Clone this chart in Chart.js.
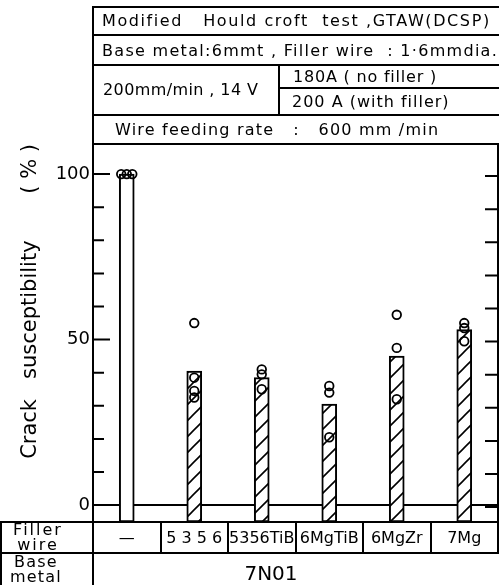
<!DOCTYPE html>
<html><head><meta charset="utf-8">
<script src="https://cdn.jsdelivr.net/npm/chart.js@4.4.1/dist/chart.umd.min.js"></script>
<style>
html,body{margin:0;padding:0;background:#fff;overflow:hidden;}
#wrap{position:relative;width:499px;height:585px;overflow:hidden;font-family:"DejaVu Sans",sans-serif;color:#000;background:#fff;}
canvas{position:absolute;left:0;top:0;}
.ln{position:absolute;background:#000;}
.tx{position:absolute;white-space:pre;font-size:16px;}
</style></head><body>
<div id="wrap">
<canvas id="c" width="499" height="585"></canvas>
<div class="ln" style="left:92px;top:6px;width:420px;height:2px"></div>
<div class="ln" style="left:92px;top:34px;width:420px;height:2px"></div>
<div class="ln" style="left:92px;top:64px;width:420px;height:2px"></div>
<div class="ln" style="left:279px;top:87px;width:240px;height:2px"></div>
<div class="ln" style="left:92px;top:114px;width:420px;height:2px"></div>
<div class="ln" style="left:92px;top:143px;width:420px;height:2px"></div>
<div class="ln" style="left:92px;top:6px;width:2px;height:139px"></div>
<div class="ln" style="left:278px;top:64px;width:2px;height:51px"></div>
<div class="tx" style="left:102px;top:7px;line-height:28px;letter-spacing:1.6px">Modified   Hould croft  test ,GTAW(DCSP)</div>
<div class="tx" style="left:102px;top:36px;line-height:29px;letter-spacing:1.3px">Base metal:6mmt , Filler wire  : 1·6mmdia.</div>
<div class="tx" style="left:103px;top:66px;line-height:48px;letter-spacing:0.4px">200mm/min , 14 V</div>
<div class="tx" style="left:293px;top:66px;line-height:22px;letter-spacing:0.8px">180A ( no filler )</div>
<div class="tx" style="left:292px;top:89px;line-height:26px;letter-spacing:1px">200 A (with filler)</div>
<div class="tx" style="left:115px;top:116px;line-height:28px;letter-spacing:1.2px">Wire feeding rate   :   600 mm /min</div>
<div class="tx" style="left:2px;top:522px;width:72px;text-align:center;font-size:16px;line-height:15px;letter-spacing:2px">Filler
wire</div>
<div class="tx" style="left:0px;top:554px;width:72px;text-align:center;font-size:16px;line-height:15px;letter-spacing:1.2px">Base
metal</div>
<div class="tx" style="left:221px;top:561px;width:100px;text-align:center;font-size:20px;line-height:24px">7N01</div>
</div>
<script>
const categories = ['—', '5 3 5 6', '5356TiB', '6MgTiB', '6MgZr', '7Mg'];
const barValues = [100, 40.5, 38.5, 30.5, 45, 53];
const pointValues = [
  [100, 100, 100],
  [55, 38.5, 34.5, 32.5],
  [41, 39.5, 35],
  [36, 34, 20.5],
  [57.5, 47.5, 32],
  [55, 53.5, 49.5]
];
const yTickLabels = [0, 50, 100];
const yMin = -5.1, yMax = 109.1;

// hatch pattern
function hatch() {
  const s = 16, c = document.createElement('canvas');
  c.width = s; c.height = s;
  const g = c.getContext('2d');
  g.fillStyle = '#fff'; g.fillRect(0, 0, s, s);
  g.strokeStyle = '#000'; g.lineWidth = 1.6;
  g.beginPath();
  g.moveTo(-2, s + 2); g.lineTo(s + 2, -2);
  g.moveTo(-2, 2); g.lineTo(2, -2);
  g.moveTo(s - 2, s + 2); g.lineTo(s + 2, s - 2);
  g.stroke();
  return g.createPattern(c, 'repeat');
}
const pat = hatch();

// scatter points: spread coincident values horizontally
const points = [];
pointValues.forEach((vals, i) => {
  vals.forEach((v, k) => {
    const same = vals.filter(w => Math.abs(w - v) < 1);
    const idx = same.length > 1 ? vals.slice(0, k + 1).filter(w => Math.abs(w - v) < 1).length - 1 : 0;
    const off = same.length > 1 ? (idx - (same.length - 1) / 2) * 0.082 : 0;
    points.push({ x: i + off, y: v });
  });
});

const frame = {
  id: 'frame',
  afterDraw(chart) {
    const { ctx, chartArea: a, scales } = chart;
    const y = scales.y;
    ctx.save();
    ctx.strokeStyle = '#000';
    ctx.lineWidth = 2;
    ctx.beginPath();
    ctx.moveTo(0, a.bottom); ctx.lineTo(499, a.bottom);
    ctx.moveTo(0, a.bottom + 31); ctx.lineTo(499, a.bottom + 31);
    ctx.moveTo(1, a.bottom); ctx.lineTo(1, 585);
    ctx.moveTo(a.left, a.bottom); ctx.lineTo(a.left, 585);
    ctx.moveTo(a.right, a.top); ctx.lineTo(a.right, a.bottom);
    y.ticks.forEach(t => {
      const py = y.getPixelForValue(t.value);
      const len = yTickLabels.includes(t.value) ? 17 : 11;
      ctx.moveTo(a.left, py); ctx.lineTo(a.left + len, py);
      ctx.moveTo(a.right, py + 2); ctx.lineTo(a.right - 13, py + 2);
    });
    ctx.stroke();
    ctx.restore();
  }
};

new Chart(document.getElementById('c'), {
  data: {
    labels: categories,
    datasets: [
      {
        type: 'bar',
        data: barValues,
        base: yMin,
        grouped: false,
        backgroundColor: barValues.map((v, i) => i === 0 ? '#fff' : pat),
        borderColor: '#000',
        borderWidth: 2,
        borderSkipped: false,
        barThickness: 15,
        order: 2
      },
      {
        type: 'scatter',
        data: points,
        xAxisID: 'x2',
        pointRadius: 4.3,
        pointBorderWidth: 1.8,
        pointBorderColor: '#000',
        pointBackgroundColor: 'rgba(0,0,0,0)',
        order: 1
      }
    ]
  },
  options: {
    responsive: false,
    animation: false,
    events: [],
    layout: { autoPadding: false, padding: { top: 144, right: 1, left: 0, bottom: 0 } },
    plugins: { legend: { display: false }, tooltip: { enabled: false } },
    scales: {
      x: {
        type: 'category',
        offset: true,
        afterFit(s) { s.height = 63; },
        grid: { offset: true, drawOnChartArea: false, tickLength: 31, color: '#000', lineWidth: 2 },
        border: { display: true, color: '#000', width: 2 },
        ticks: { color: '#000', padding: -24, maxRotation: 0, autoSkip: false,
                 font: { family: 'DejaVu Sans', size: 16 } }
      },
      x2: {
        type: 'linear', display: false, min: -0.5, max: categories.length - 0.5
      },
      y: {
        min: yMin, max: yMax,
        afterFit(s) { s.width = 93; },
        border: { display: true, color: '#000', width: 2 },
        grid: {
          drawTicks: false,
          lineWidth: 2,
          color: c => (c.tick && c.tick.value === 0) ? '#000' : 'rgba(0,0,0,0)'
        },
        ticks: {
          stepSize: 10, includeBounds: false, padding: 3, color: '#000',
          font: { family: 'DejaVu Sans', size: 18 },
          callback: v => yTickLabels.includes(v) ? String(v) : ''
        },
        title: {
          display: true, text: 'Crack   susceptibility       ( % )', align: 'end',
          color: '#000', font: { family: 'DejaVu Sans', size: 21 },
          padding: { top: 18, bottom: 0 }
        }
      }
    }
  },
  plugins: [frame]
});
</script>
</body></html>
